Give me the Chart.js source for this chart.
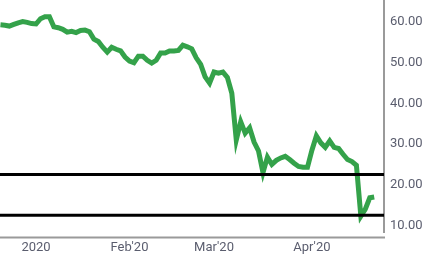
<!DOCTYPE html>
<html>
<head>
<meta charset="utf-8">
<script src="https://cdn.jsdelivr.net/npm/chart.js@4/dist/chart.umd.min.js"></script>
<style>
  html, body { margin: 0; padding: 0; background: #fff; }
  #wrap { width: 437px; height: 260px; }
</style>
</head>
<body>
<div id="wrap"><canvas id="chart-price"></canvas></div>
<script>
// daily closes, one per trading day (mid Dec 2019 .. Apr 2020)
const prices = [
  59.3, 59.2, 59.0, 59.4, 59.8, 60.1, 59.9, 59.6, 59.5, 60.8,
  61.3, 61.3, 58.8, 58.6, 58.2, 57.5, 57.7, 57.4, 57.9, 58.0,
  57.6, 55.8, 55.2, 53.8, 52.6, 53.8, 53.3, 52.9, 51.4, 50.4,
  50.0, 51.6, 51.6, 50.6, 49.9, 50.6, 52.4, 52.4, 52.9, 52.9,
  53.0, 54.3, 53.9, 53.4, 51.2, 49.6, 46.5, 45.0, 47.7, 47.4,
  47.7, 46.4, 42.5, 31.0, 35.5, 32.7, 34.0, 30.5, 28.3, 23.0,
  26.8, 25.0, 26.0, 26.6, 27.0, 26.2, 25.3, 24.5, 24.3, 24.3,
  28.5, 32.0, 30.3, 29.2, 30.8, 29.2, 28.9, 27.5, 26.2, 25.7,
  24.8, 12.3, 14.0, 16.8, 17.0
];
// horizontal level lines
const levels = [22.5, 12.5];
// x tick positions (trading day index) and their labels
const monthTicks = [8, 29, 48, 70];
const monthLabels = ["2020", "Feb'20", "Mar'20", "Apr'20"];
const yTicks = [10, 20, 30, 40, 50, 60];

const xMin = -0.1, xMax = 86.2;
const tickColor = "#5a5d6e";
const axisColor = "#9a9a9a";

const ctx = document.getElementById("chart-price").getContext("2d");

const datasets = levels.map((lv) => ({
  data: [{ x: xMin, y: lv }, { x: xMax, y: lv }],
  borderColor: "#000",
  borderWidth: 3,
  pointRadius: 0,
}));
datasets.push({
  data: prices.map((p, i) => ({ x: i, y: p })),
  borderColor: "#34a24a",
  borderWidth: 5,
  pointRadius: 0,
  tension: 0,
});

// no extra room for first/last labels, the area goes to the canvas edges
const noPad = (s) => {
  s.paddingTop = 0; s.paddingBottom = 0; s.paddingLeft = 0; s.paddingRight = 0;
};

// the time axis line sits a few px below the plot, detached from the price axis
const bottomLine = {
  id: "bottomLine",
  afterDraw(chart) {
    const { ctx, chartArea } = chart;
    ctx.save();
    ctx.strokeStyle = axisColor;
    ctx.lineWidth = 2;
    ctx.beginPath();
    ctx.moveTo(chartArea.left, chartArea.bottom + 5.5);
    ctx.lineTo(chartArea.right + 1, chartArea.bottom + 5.5);
    ctx.stroke();
    ctx.restore();
  },
};

new Chart(ctx, {
  type: "line",
  data: { datasets: datasets },
  plugins: [bottomLine],
  options: {
    responsive: true,
    maintainAspectRatio: false,
    animation: false,
    layout: { padding: 0 },
    plugins: { legend: { display: false }, tooltip: { enabled: false } },
    scales: {
      x: {
        type: "linear",
        min: xMin,
        max: xMax,
        grid: { display: false, drawTicks: false, tickLength: 0 },
        border: { display: false },
        afterBuildTicks: (s) => { s.ticks = monthTicks.map((v) => ({ value: v })); },
        afterFit: (s) => { s.height = 28; noPad(s); },
        ticks: {
          autoSkip: false,
          maxRotation: 0,
          padding: 8,
          color: tickColor,
          font: { family: "Roboto", size: 13 },
          callback: (v) => monthLabels[monthTicks.indexOf(v)],
        },
      },
      y: {
        position: "right",
        min: 8.4,
        max: 65.4,
        grid: { display: false, drawTicks: false, tickLength: 0 },
        border: { display: true, color: axisColor, width: 2 },
        afterBuildTicks: (s) => { s.ticks = yTicks.map((v) => ({ value: v })); },
        afterFit: (s) => { s.width = 53; noPad(s); },
        ticks: {
          padding: 6,
          color: tickColor,
          font: { family: "Roboto", size: 13 },
          callback: (v) => v.toFixed(2),
        },
      },
    },
  },
});
</script>
</body>
</html>
